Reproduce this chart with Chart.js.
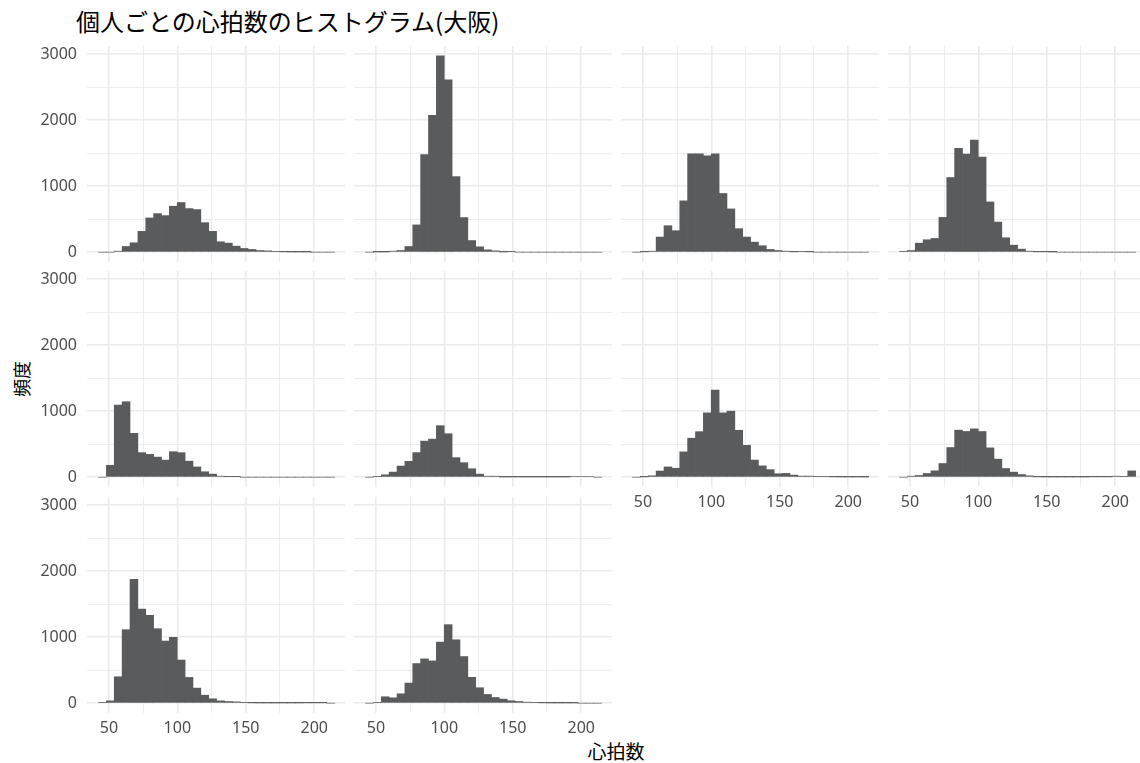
<!DOCTYPE html>
<html lang="ja">
<head>
<meta charset="UTF-8" />
<title>個人ごとの心拍数のヒストグラム(大阪)</title>
<script src="https://cdn.jsdelivr.net/npm/chart.js"></script>
<style>
    body {
        margin: 0;
        width: 1140px;
        height: 763px;
        overflow: hidden;
        position: relative;
        background: #fff;
        font-family: "Noto Sans CJK JP", "Noto Sans", sans-serif;
    }
    canvas { position: absolute; }
    #title {
        position: absolute; left: 76px; top: 9px;
        font-size: 24px; line-height: 1; color: #000; white-space: nowrap;
    }
    #xtitle {
        position: absolute; left: 616px; top: 750px;
        transform: translate(-50%, -50%);
        font-size: 19px; line-height: 1; color: #000; white-space: nowrap;
    }
    #ytitle {
        position: absolute; left: 21px; top: 379px;
        transform: translate(-50%, -50%) rotate(-90deg);
        font-size: 18px; line-height: 1; color: #000; white-space: nowrap;
    }
</style>
</head>
<body>
<div id="title">個人ごとの心拍数のヒストグラム(大阪)</div>
<div id="ytitle">頻度</div>
<div id="xtitle">心拍数</div>

<script>
    // bin centres (30 bins, width ~5.75)
    const binCenters = [45.3, 51.05, 56.8, 62.55, 68.3, 74.05, 79.8, 85.55, 91.3, 97.05,
        102.8, 108.55, 114.3, 120.05, 125.8, 131.55, 137.3, 143.05, 148.8, 154.55,
        160.3, 166.05, 171.8, 177.55, 183.3, 189.05, 194.8, 200.55, 206.3, 212.05];

    const xTicks = [50, 75, 100, 125, 150, 175, 200];
    const yTicks = [0, 500, 1000, 1500, 2000, 2500, 3000];

    // counts per person, panels in reading order
    const person1 = [0, 0, 15, 86, 142, 315, 518, 584, 554, 696, 752, 660, 645, 447, 315, 157, 137, 91, 56, 41, 25, 20, 10, 5, 3, 3, 3, 0, 0, 0];
    const person2 = [0, 3, 3, 15, 25, 86, 413, 1477, 2071, 2974, 2611, 1144, 524, 176, 81, 35, 20, 3, 8, 0, 0, 0, 0, 0, 0, 0, 0, 0, 0, 0];
    const person3 = [0, 5, 15, 229, 401, 325, 777, 1488, 1488, 1458, 1488, 889, 655, 356, 229, 152, 97, 41, 25, 15, 5, 10, 5, 0, 0, 0, 0, 0, 0, 0];
    const person4 = [10, 25, 137, 188, 208, 527, 1131, 1572, 1486, 1698, 1440, 761, 456, 218, 106, 46, 15, 5, 5, 3, 0, 0, 0, 0, 0, 0, 0, 0, 0, 0];
    const person5 = [0, 180, 1092, 1143, 664, 371, 345, 304, 258, 386, 371, 242, 155, 82, 46, 15, 8, 8, 0, 0, 0, 0, 0, 0, 0, 0, 0, 0, 0, 0];
    const person6 = [0, 10, 36, 77, 168, 240, 372, 546, 576, 780, 658, 296, 219, 128, 46, 15, 15, 3, 3, 3, 3, 3, 3, 3, 3, 3, 12, 12, 12, 0];
    const person7 = [0, 5, 21, 93, 155, 135, 383, 590, 689, 974, 1321, 974, 1000, 710, 482, 259, 171, 114, 52, 57, 31, 16, 16, 10, 10, 5, 3, 3, 3, 2];
    const person8 = [0, 15, 25, 56, 96, 207, 449, 712, 692, 732, 692, 444, 273, 131, 76, 40, 20, 5, 3, 3, 3, 3, 3, 3, 5, 5, 5, 15, 10, 95];
    const person9 = [10, 35, 400, 1113, 1877, 1427, 1331, 1128, 941, 997, 653, 390, 228, 121, 66, 35, 25, 20, 10, 5, 3, 3, 3, 3, 3, 3, 5, 5, 5, 0];
    const person10 = [0, 10, 97, 81, 142, 305, 600, 671, 640, 925, 1189, 960, 706, 391, 234, 132, 86, 61, 36, 25, 15, 10, 5, 3, 3, 3, 3, 0, 0, 0];

    const panels = [person1, person2, person3, person4, person5,
        person6, person7, person8, person9, person10];

    const colLeft = [87, 354, 621, 888];
    const rowTop = [46, 271, 497];
    const panelW = 258, panelH = 216;
    const yAxisW = 87, xAxisH = 30;

    Chart.defaults.font.family = '"Noto Sans", "Noto Sans CJK JP", sans-serif';
    Chart.defaults.color = '#4d4d4d';

    function makePanel(idx, values) {
        const col = idx % 4, row = Math.floor(idx / 4);
        const showY = col === 0;
        const showX = row === 2 || (row === 1 && col >= 2);

        const canvas = document.createElement('canvas');
        const w = panelW + (showY ? yAxisW : 0);
        const h = panelH + (showX ? xAxisH : 0);
        canvas.width = w;
        canvas.height = h;
        canvas.style.width = w + 'px';
        canvas.style.height = h + 'px';
        canvas.style.left = (colLeft[col] - (showY ? yAxisW : 0)) + 'px';
        canvas.style.top = rowTop[row] + 'px';
        document.body.appendChild(canvas);

        new Chart(canvas, {
            type: 'bar',
            data: {
                datasets: [{
                    data: binCenters.map((x, i) => ({ x: x, y: values[i] })),
                    backgroundColor: '#595b5c',
                    borderWidth: 0,
                    barPercentage: 1,
                    categoryPercentage: 1
                }]
            },
            options: {
                responsive: false,
                animation: false,
                events: [],
                layout: { padding: 0 },
                plugins: { legend: { display: false }, tooltip: { enabled: false } },
                scales: {
                    x: {
                        type: 'linear',
                        min: 34,
                        max: 222.5,
                        offset: false,
                        afterBuildTicks: s => { s.ticks = xTicks.map(v => ({ value: v })); },
                        afterFit: s => {
                            s.height = showX ? xAxisH : 0;
                            s.paddingLeft = 0; s.paddingRight = 0;
                        },
                        ticks: {
                            display: showX,
                            autoSkip: false,
                            maxRotation: 0,
                            padding: 6,
                            font: { size: 16 },
                            callback: v => (v % 50 === 0 ? String(v) : '')
                        },
                        grid: {
                            offset: false,
                            color: '#ebebeb',
                            lineWidth: c => (c.tick && c.tick.value % 50 === 0 ? 1.6 : 0.9),
                            drawTicks: false
                        },
                        border: { display: false }
                    },
                    y: {
                        min: -149,
                        max: 3123,
                        afterBuildTicks: s => { s.ticks = yTicks.map(v => ({ value: v })); },
                        afterFit: s => {
                            s.width = showY ? yAxisW : 0;
                            s.paddingTop = 0; s.paddingBottom = 0;
                        },
                        ticks: {
                            display: showY,
                            autoSkip: false,
                            padding: 10,
                            font: { size: 16 },
                            callback: v => (v % 1000 === 0 ? String(v) : '')
                        },
                        grid: {
                            color: '#ebebeb',
                            lineWidth: c => (c.tick && c.tick.value % 1000 === 0 ? 1.6 : 0.9),
                            drawTicks: false
                        },
                        border: { display: false }
                    }
                }
            }
        });
    }

    panels.forEach((vals, i) => makePanel(i, vals));
</script>
</body>
</html>
